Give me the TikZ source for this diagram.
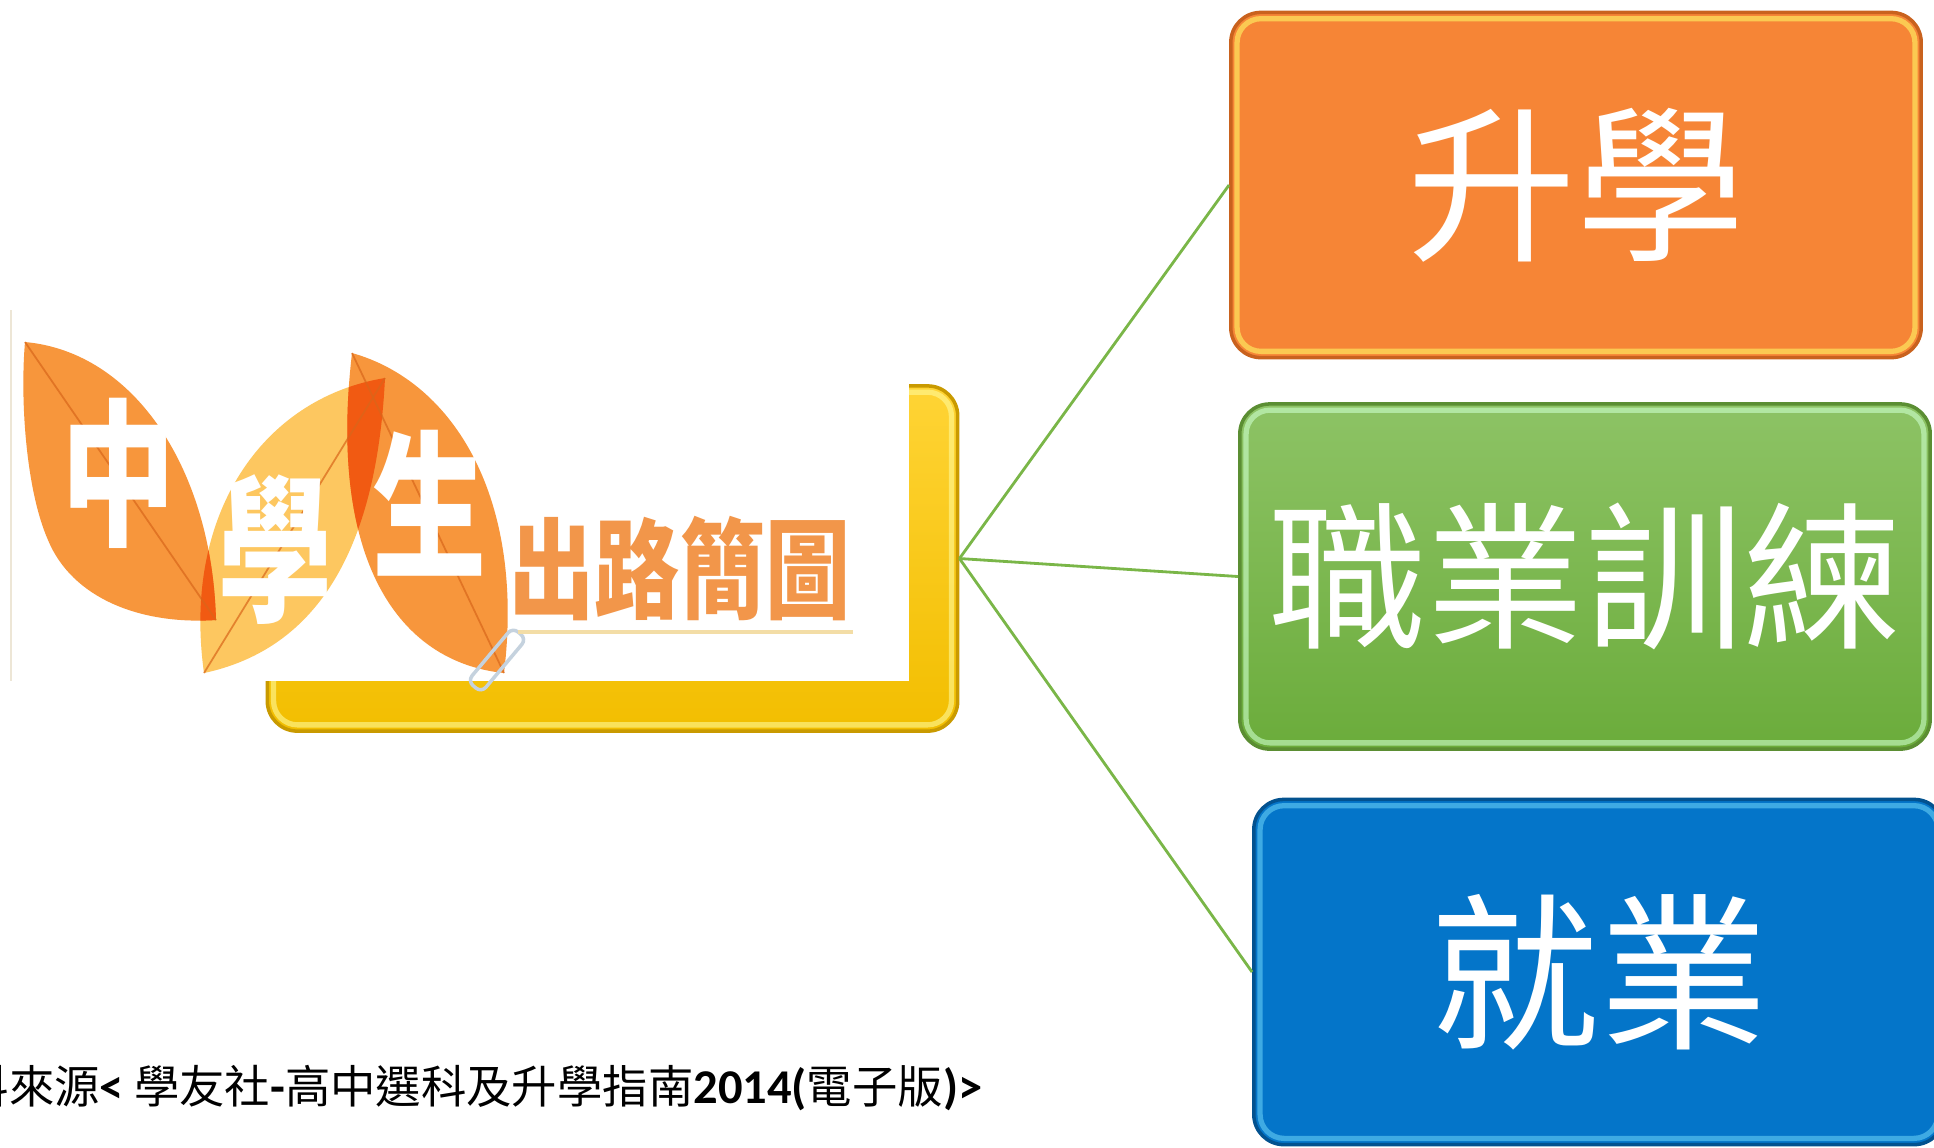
\documentclass[tikz,border=0pt]{standalone}
\usepackage{fontspec}
\usepackage{graphicx}
\usepackage{tikz}
\newfontfamily\cjk{Noto Sans CJK TC}
\newfontfamily\calib{Carlito}
\newcommand{\lat}[1]{{\calib\bfseries\fontsize{13.8pt}{14pt}\selectfont #1}}
\definecolor{sxorange}{HTML}{F68536}
\definecolor{sxrim}{HTML}{C9621E}
\definecolor{zytop}{HTML}{8DC365}
\definecolor{zybot}{HTML}{6BAC3B}
\definecolor{zyrim}{HTML}{5B8E33}
\definecolor{jyblue}{HTML}{0475C9}
\definecolor{jyrim}{HTML}{03528F}
\definecolor{hubtop}{HTML}{FFD435}
\definecolor{hubbot}{HTML}{F2BE00}
\definecolor{hubrim}{HTML}{C99A00}
\definecolor{linkgreen}{HTML}{7AB648}
\definecolor{leaforange}{HTML}{F7963C}
\definecolor{leafyellow}{HTML}{FDC760}
\definecolor{leafred}{HTML}{F15A12}
\definecolor{leafrib}{HTML}{D9661A}
\definecolor{logotext}{HTML}{F2964A}
\definecolor{logoline}{HTML}{F3DDA6}
\definecolor{logoedge}{HTML}{EDE6D6}
\definecolor{handlegray}{HTML}{C5D2DE}
%% leaf outlines of the logo
\newcommand{\leafone}{(25,342) .. controls (135,352) and (212,470) .. (216,620) .. controls (140,625) and (72,598) .. (48,540) .. controls (26,490) and (20,400) .. (25,342) -- cycle}
\newcommand{\leaftwo}{(204,673) .. controls (182,515) and (262,398) .. (385,378) .. controls (378,520) and (335,645) .. (204,673) -- cycle}
\newcommand{\leafthree}{(352,353) .. controls (455,382) and (525,500) .. (504,673) .. controls (398,662) and (328,560) .. (352,353) -- cycle}

\begin{document}
\begin{tikzpicture}[x=0.01cm, y=-0.01cm,
		box/.style={rounded corners=0.3cm, minimum width=6.9cm, minimum height=3.45cm, inner sep=0pt, line width=1pt, text=white, font=\cjk\fontsize{48pt}{52pt}\selectfont},
		gloss/.style={draw=#1, rounded corners=0.24cm, line width=1.5pt, opacity=0.6},
		link/.style={draw=linkgreen, line width=0.8pt},
		leaftext/.style={text=white, inner sep=0pt, font=\cjk\bfseries\fontsize{45pt}{46pt}\selectfont},
		rib/.style={draw=leafrib, line width=0.5pt, opacity=0.7},
		cite/.style={inner sep=0pt, font=\cjk\fontsize{12.9pt}{14pt}\selectfont}]
	\useasboundingbox (0,0) rectangle (1934,1147);
	\clip (0,0) rectangle (1934,1147);
	%% centre box, half covered by the logo
	\node (hub) at (612.5,558.5) [box, draw=hubrim, top color=hubtop, bottom color=hubbot] {};
	\draw[gloss=yellow!40] ([shift={(8,8)}]hub.north west) rectangle ([shift={(-8,-8)}]hub.south east);
	%% logo
	\fill[white] (11,310) rectangle (909,681);
	\draw[logoedge, line width=0.8pt] (11,310) -- (11,681);
	\fill[leafyellow] \leaftwo;
	\fill[leaforange] \leafone;
	\fill[leaforange] \leafthree;
	\begin{scope}
		\clip \leafone;
		\fill[leafred] \leaftwo;
	\end{scope}
	\begin{scope}
		\clip \leafthree;
		\fill[leafred] \leaftwo;
	\end{scope}
	\draw[rib] (25,342) -- (216,620);
	\draw[rib] (204,673) -- (385,378);
	\draw[rib] (352,353) -- (504,673);
	\draw[handlegray, line width=1pt, rounded corners=2pt, rotate around={50:(497,660)}] (462,651) rectangle (532,669);
	\node (zhong) at (118,473) [leaftext] {\scalebox{0.72}[1]{中}};
	\node (xue) at (275,550) [leaftext] {\scalebox{0.72}[1]{學}};
	\node (sheng) at (429,503) [leaftext] {\scalebox{0.72}[1]{生}};
	\node (route) at (680,569) [text=logotext, inner sep=0pt, font=\cjk\bfseries\fontsize{31pt}{32pt}\selectfont] {\scalebox{0.78}[1]{出路簡圖}};
	\draw[logoline, line width=1pt] (518,632) -- (853,632);
	%% the three ways
	\node (sx) at (1576,185) [box, draw=sxrim, fill=sxorange] {升學};
	\draw[gloss=yellow!60] ([shift={(8,8)}]sx.north west) rectangle ([shift={(-8,-8)}]sx.south east);
	\node (zy) at (1585,576.5) [box, draw=zyrim, top color=zytop, bottom color=zybot, font=\cjk\fontsize{45pt}{48pt}\selectfont] {職業訓練};
	\draw[gloss=green!20] ([shift={(8,8)}]zy.north west) rectangle ([shift={(-8,-8)}]zy.south east);
	\node (jy) at (1599,972) [box, draw=jyrim, fill=jyblue] {就業};
	\draw[gloss=cyan!60] ([shift={(8,8)}]jy.north west) rectangle ([shift={(-8,-8)}]jy.south east);
	%% connectors
	\draw[link] (hub.east) -- (sx.west);
	\draw[link] (hub.east) -- (zy.west);
	\draw[link] (hub.east) -- (jy.west);
	%% source line
	\node (src) at (983,1103) [cite, anchor=base east] {資料來源\lat{<} 學友社\lat{-}高中選科及升學指南\lat{2014(}電子版\lat{)>}};
\end{tikzpicture}
\end{document}
